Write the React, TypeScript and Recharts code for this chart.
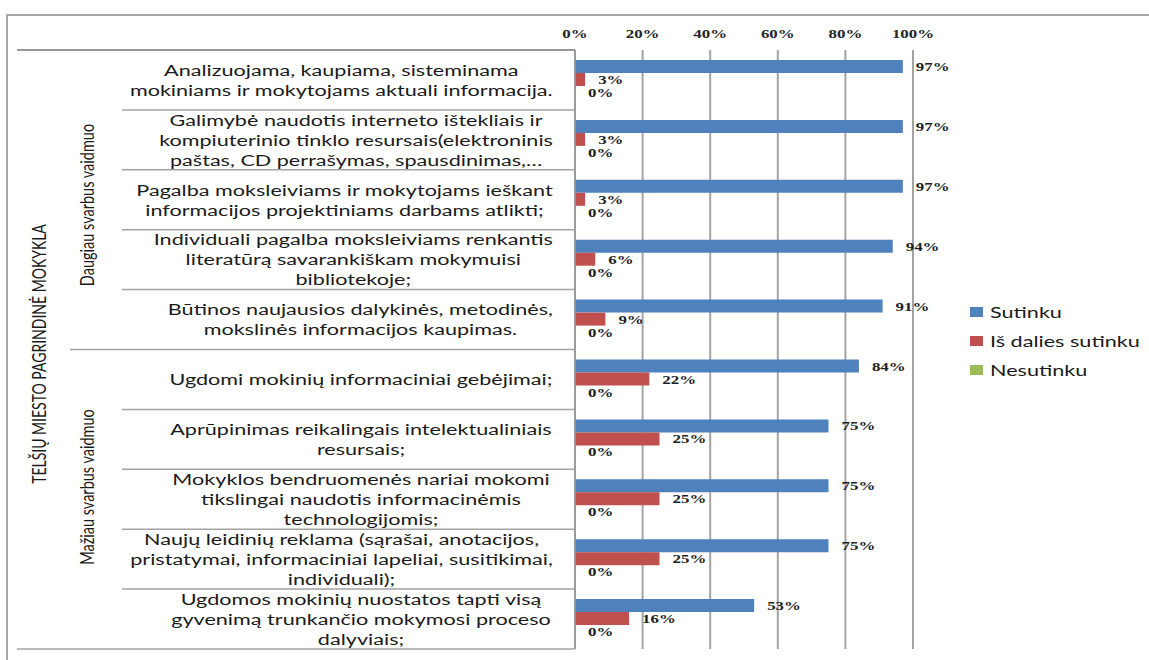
import React from 'react';
import { BarChart, Bar, XAxis, YAxis, CartesianGrid, LabelList } from 'recharts';

// ---------- data ----------
const CATEGORIES: string[] = [
  'Analizuojama, kaupiama, sisteminama\nmokiniams ir mokytojams aktuali informacija.',
  'Galimybė naudotis interneto ištekliais ir\nkompiuterinio tinklo resursais(elektroninis\npaštas, CD perrašymas, spausdinimas,…',
  'Pagalba moksleiviams ir mokytojams ieškant\ninformacijos projektiniams darbams atlikti;',
  'Individuali pagalba moksleiviams renkantis\nliteratūrą savarankiškam mokymuisi\nbibliotekoje;',
  'Būtinos naujausios dalykinės, metodinės,\nmokslinės informacijos kaupimas.',
  'Ugdomi mokinių informaciniai gebėjimai;',
  'Aprūpinimas reikalingais intelektualiniais\nresursais;',
  'Mokyklos bendruomenės nariai mokomi\ntikslingai naudotis informacinėmis\ntechnologijomis;',
  'Naujų leidinių reklama (sąrašai, anotacijos,\npristatymai, informaciniai lapeliai, susitikimai,\nindividuali);',
  'Ugdomos mokinių nuostatos tapti visą\ngyvenimą trunkančio mokymosi proceso\ndalyviais;',
];
const SUTINKU: number[] = [97, 97, 97, 94, 91, 84, 75, 75, 75, 53];
const IS_DALIES: number[] = [3, 3, 3, 6, 9, 22, 25, 25, 25, 16];
const NESUTINKU: number[] = [0, 0, 0, 0, 0, 0, 0, 0, 0, 0];
const X_TICKS: number[] = [0, 20, 40, 60, 80, 100];
const SERIES_NAMES: string[] = ['Sutinku', 'Iš dalies sutinku', 'Nesutinku'];
const GROUP_LABELS: string[] = ['Daugiau svarbus vaidmuo', 'Mažiau svarbus vaidmuo'];
const GROUP_SIZES: number[] = [5, 5];
const SCHOOL_LABEL = 'TELŠIŲ MIESTO PAGRINDINĖ MOKYKLA';

const data = CATEGORIES.map((name, i) => ({
  name,
  sutinku: SUTINKU[i],
  dalies: IS_DALIES[i],
  nesutinku: NESUTINKU[i],
}));

// ---------- layout / style ----------
const W = 1149;
const H = 660;
const MARGIN = { top: 20, right: 236, bottom: 11, left: 0 };
const XAXIS_H = 30;
const YAXIS_W = 575;
const PLOT_LEFT = MARGIN.left + YAXIS_W;
const PLOT_TOP = MARGIN.top + XAXIS_H;
const PLOT_H = H - PLOT_TOP - MARGIN.bottom;
const BAND = PLOT_H / CATEGORIES.length;

const COLORS = ['#4F81BD', '#C0504D', '#9BBB59'];
const SX = 1.35; // horizontal stretch seen in the reference
const LINE_COLOR = '#a3a3a3';
const LABEL_CENTER = 361;
const LABEL_RIGHT = 553;
const LABEL_FONT_SIZE = 16;
const LABEL_LINE_H = 20;

let _ctx: CanvasRenderingContext2D | null = null;
function textWidth(t: string, font: string): number {
  if (!_ctx) {
    const c = document.createElement('canvas');
    _ctx = c.getContext('2d');
  }
  if (!_ctx) return t.length * 8;
  _ctx.font = font;
  return _ctx.measureText(t).width;
}

function CategoryTick(props: any) {
  const { y, payload } = props;
  const value = String(payload.value);
  const idx = CATEGORIES.indexOf(value);
  const lines = value.split('\n');
  const maxW = Math.max(...lines.map((l) => textWidth(l, `${LABEL_FONT_SIZE}px Lato`) * SX));
  const cx = Math.min(LABEL_CENTER, LABEL_RIGHT - maxW / 2);
  const half = BAND / 2;
  let startX = 122;
  if (idx === CATEGORIES.length - 1) startX = 17;
  else if (idx === GROUP_SIZES[0] - 1) startX = 70;
  return (
    <g>
      {idx === 0 && (
        <line x1={17} x2={PLOT_LEFT} y1={y - half} y2={y - half} stroke="#999" strokeWidth={2} />
      )}
      <line x1={startX} x2={PLOT_LEFT} y1={y + half} y2={y + half} stroke={LINE_COLOR} strokeWidth={1.5} />
      <text
        transform={`translate(${cx},${y}) scale(${SX},1)`}
        textAnchor="middle"
        fontFamily="Lato"
        fontSize={LABEL_FONT_SIZE}
        fill="#1a1a1a"
      >
        {lines.map((l, i) => (
          <tspan key={i} x={0} y={(i - (lines.length - 1) / 2) * LABEL_LINE_H} dy="0.36em">
            {l}
          </tspan>
        ))}
      </text>
    </g>
  );
}

function XTick(props: any) {
  const { x, payload } = props;
  return (
    <text
      transform={`translate(${x},${PLOT_TOP - 12}) scale(1.3,1)`}
      textAnchor="middle"
      fontFamily="Liberation Serif"
      fontWeight="bold"
      fontSize={13}
      fill="#262626"
    >
      {payload.value}%
    </text>
  );
}

function PctText({ x, y, value }: { x: number; y: number; value: any }) {
  return (
    <text
      transform={`translate(${x},${y}) scale(1.3,1)`}
      dy="0.35em"
      textAnchor="start"
      fontFamily="Liberation Serif"
      fontWeight="bold"
      fontSize={13}
      fill="#1f1f1f"
    >
      {value}%
    </text>
  );
}

function ValueLabel(props: any) {
  const x = Number(props.x);
  const y = Number(props.y);
  const w = Number(props.width) || 0;
  const h = Number(props.height) || 0;
  return <PctText x={x + w + 13} y={y + h / 2} value={props.value} />;
}

// Label of the zero-length "Nesutinku" bar: it sits in the slot just below the
// "Iš dalies sutinku" bar and starts from the same zero baseline.
function NextSlotLabel(props: any) {
  const x = Number(props.x);
  const y = Number(props.y);
  const h = Number(props.height) || 0;
  const idx = Number(props.index);
  const v = NESUTINKU[idx];
  return <PctText x={x + 13} y={y + h * 1.5} value={v} />;
}

function RotLabel({ cx, cy, text, size }: { cx: number; cy: number; text: string; size: number }) {
  return (
    <text
      transform={`translate(${cx},${cy}) scale(${SX},1) rotate(-90)`}
      textAnchor="middle"
      dy="0.35em"
      fontFamily="Lato"
      fontSize={size}
      fill="#1a1a1a"
    >
      {text}
    </text>
  );
}

export default function App() {
  return (
    <div style={{ position: 'absolute', left: 0, top: 0, width: W, height: H, background: '#fff' }}>
      <BarChart
        width={W}
        height={H}
        data={data}
        layout="vertical"
        margin={MARGIN}
        barCategoryGap={10}
        barGap={0}
      >
        <CartesianGrid horizontal={false} stroke={LINE_COLOR} strokeWidth={2} />
        <XAxis
          type="number"
          orientation="top"
          domain={[0, 100]}
          ticks={X_TICKS}
          height={XAXIS_H}
          axisLine={false}
          tickLine={false}
          tickSize={0}
          tickMargin={12}
          tick={(p: any) => <XTick {...p} />}
          interval={0}
        />
        <YAxis
          type="category"
          dataKey="name"
          width={YAXIS_W}
          axisLine={{ stroke: '#999', strokeWidth: 1.5 }}
          tickLine={false}
          interval={0}
          tick={(p: any) => <CategoryTick {...p} />}
        />
        <Bar dataKey="sutinku" name={SERIES_NAMES[0]} fill={COLORS[0]} isAnimationActive={false}>
          <LabelList dataKey="sutinku" content={(p: any) => <ValueLabel {...p} />} />
        </Bar>
        <Bar dataKey="dalies" name={SERIES_NAMES[1]} fill={COLORS[1]} isAnimationActive={false}>
          <LabelList dataKey="dalies" content={(p: any) => <ValueLabel {...p} />} />
          <LabelList dataKey="dalies" content={(p: any) => <NextSlotLabel {...p} />} />
        </Bar>
        <Bar dataKey="nesutinku" name={SERIES_NAMES[2]} fill={COLORS[2]} isAnimationActive={false} />
      </BarChart>
      <svg
        width={W}
        height={H}
        style={{ position: 'absolute', left: 0, top: 0, pointerEvents: 'none' }}
      >
        <rect x={7} y={15} width={W + 20} height={H + 20} fill="none" stroke="#a8a8a8" strokeWidth={2} />
        <RotLabel cx={39} cy={354} text={SCHOOL_LABEL} size={14} />
        <RotLabel cx={87} cy={205} text={GROUP_LABELS[0]} size={14.5} />
        <RotLabel cx={87} cy={487} text={GROUP_LABELS[1]} size={14.5} />
      </svg>
      <div style={{ position: 'absolute', left: 970, top: 297, fontFamily: 'Lato', fontSize: 16, color: '#1a1a1a' }}>
        {SERIES_NAMES.map((n, i) => (
          <div key={n} style={{ display: 'flex', alignItems: 'center', height: 29 }}>
            <span style={{ width: 13, height: 10, background: COLORS[i], display: 'inline-block' }} />
            <span
              style={{
                display: 'inline-block',
                marginLeft: 7,
                transform: `scaleX(${SX})`,
                transformOrigin: 'left center',
                whiteSpace: 'nowrap',
              }}
            >
              {n}
            </span>
          </div>
        ))}
      </div>
    </div>
  );
}
